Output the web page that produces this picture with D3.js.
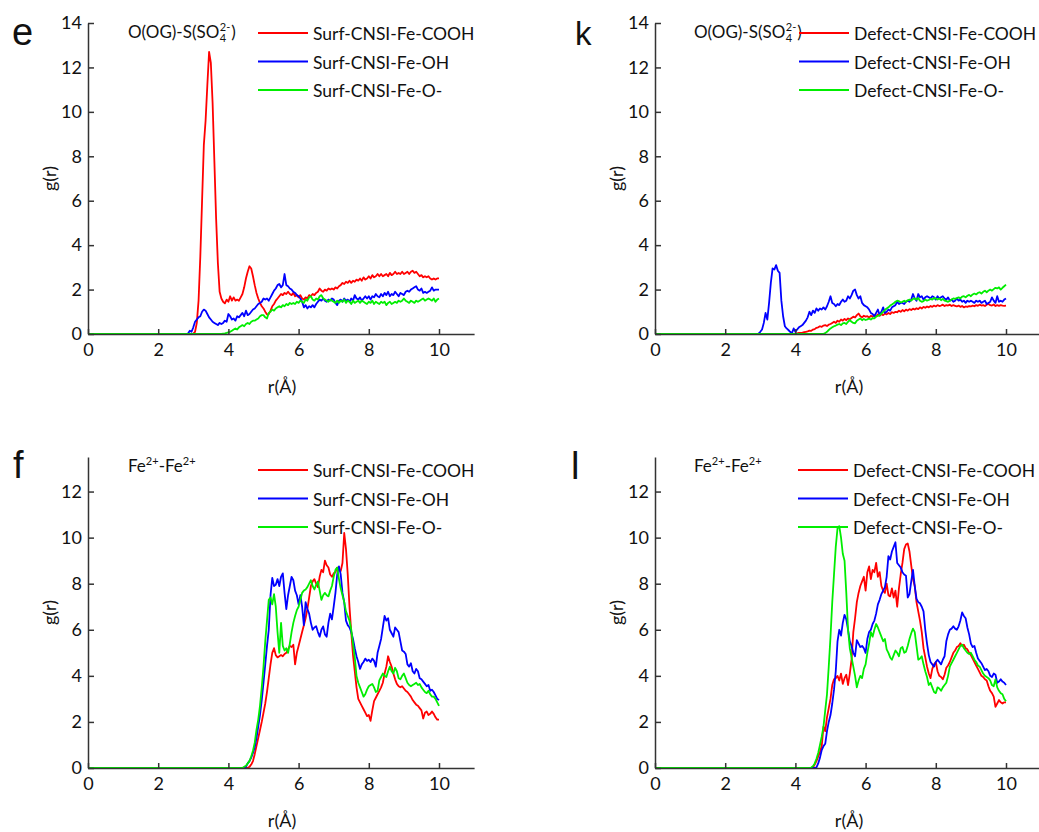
<!DOCTYPE html>
<html><head><meta charset="utf-8">
<script src="https://cdn.jsdelivr.net/npm/d3@7"></script>
<style>
body{margin:0;background:#fff}
svg{display:block}
text{font-family:Lato,'Open Sans',sans-serif}
</style>
</head><body>
<svg id="c" width="1039" height="832"></svg>
<script>
// ---------- data ----------
const rStep = 0.05;
const rStartTop = 2.8;     // first grid r of panels e,k
const rStartBottom = 4.4;  // first grid r of panels f,l
const xTicks = [0,2,4,6,8,10];
const yTicksTop = [0,2,4,6,8,10,12,14];
const yTicksBottom = [0,2,4,6,8,10,12];
const surfLabels = ['Surf-CNSI-Fe-COOH','Surf-CNSI-Fe-OH','Surf-CNSI-Fe-O-'];
const defectLabels = ['Defect-CNSI-Fe-COOH','Defect-CNSI-Fe-OH','Defect-CNSI-Fe-O-'];
const seriesColors = ['#ff0000','#0000ff','#00ee00'];

// panel e : O(OG)-S(SO4 2-), surface
const eCOOH = [
0,0,0,0,0.02,0.1,0.5,1.5,3.5,6.0,
8.5,9.6,11.2,12.7,12.2,10.4,7.8,5.2,3.2,1.9,
1.6,1.45,1.38,1.55,1.45,1.7,1.5,1.65,1.5,1.55,
1.5,1.65,1.8,2.1,2.5,2.8,3.05,2.95,2.6,2.2,
1.85,1.6,1.4,1.25,1.15,1.0,0.88,0.9,1.05,1.25,
1.35,1.5,1.6,1.7,1.8,1.75,1.85,1.8,1.9,1.8,
1.75,1.85,1.7,1.75,1.65,1.75,1.6,1.55,1.65,1.6,
1.75,1.7,1.8,1.75,1.85,1.9,2.05,1.95,1.9,2.0,
1.95,2.05,2.0,2.05,2.0,2.1,2.05,2.15,2.2,2.3,
2.25,2.35,2.3,2.4,2.3,2.4,2.35,2.45,2.4,2.5,
2.4,2.55,2.45,2.5,2.6,2.5,2.65,2.55,2.6,2.7,
2.6,2.7,2.6,2.65,2.7,2.6,2.75,2.65,2.7,2.8,
2.7,2.75,2.7,2.8,2.7,2.75,2.8,2.7,2.8,2.85,
2.75,2.8,2.7,2.6,2.65,2.55,2.6,2.55,2.6,2.5,
2.45,2.5,2.45,2.5,2.5];
const eOH = [
0,0.02,0.15,0.1,0.3,0.55,0.65,0.75,0.8,1.0,
1.1,1.05,0.9,0.75,0.65,0.55,0.5,0.45,0.4,0.5,
0.45,0.5,0.6,0.55,0.9,0.8,0.65,0.7,0.6,0.8,
0.75,0.85,0.95,0.8,1.05,0.85,0.9,1.0,1.1,1.15,
1.25,1.35,1.4,1.45,1.6,1.55,1.6,1.5,1.65,1.8,
1.95,2.05,2.2,2.25,2.1,2.2,2.7,2.2,2.15,2.05,
2.0,1.9,1.85,1.75,1.7,1.6,1.45,1.2,1.3,1.15,
1.25,1.2,1.3,1.2,1.35,1.45,1.55,1.5,1.6,1.5,
1.45,1.55,1.5,1.6,1.55,1.4,1.3,1.5,1.55,1.45,
1.6,1.5,1.55,1.45,1.6,1.5,1.75,1.6,1.55,1.65,
1.5,1.6,1.7,1.6,1.7,1.55,1.7,1.65,1.8,1.7,
1.65,1.8,1.7,1.85,1.75,1.9,1.7,1.8,1.75,1.9,
1.8,1.7,1.85,1.8,1.75,1.9,1.95,1.9,2.0,2.05,
2.1,2.15,2.0,1.95,2.05,1.85,1.9,1.85,1.9,1.95,
2.1,1.95,2.0,2.0,2.0];
const eO = [
0,0,0,0,0,0,0,0,0,0,
0,0,0,0,0,0,0,0,0,0,
0.01,0.02,0.03,0.05,0.08,0.1,0.15,0.2,0.25,0.2,
0.3,0.35,0.4,0.35,0.45,0.5,0.45,0.55,0.6,0.6,
0.65,0.7,0.8,0.85,0.85,0.75,0.7,0.95,1.0,1.1,
1.05,1.15,1.2,1.25,1.2,1.3,1.25,1.35,1.3,1.4,
1.35,1.4,1.35,1.45,1.4,1.5,1.45,1.4,1.55,1.5,
1.65,1.7,1.55,1.5,1.6,1.55,1.7,1.75,1.6,1.55,
1.5,1.45,1.55,1.5,1.45,1.4,1.5,1.4,1.5,1.45,
1.55,1.4,1.5,1.45,1.35,1.5,1.4,1.45,1.5,1.4,
1.5,1.45,1.4,1.35,1.45,1.4,1.5,1.35,1.45,1.4,
1.35,1.45,1.4,1.45,1.3,1.4,1.45,1.35,1.4,1.45,
1.4,1.5,1.45,1.5,1.6,1.5,1.45,1.4,1.5,1.45,
1.4,1.5,1.45,1.5,1.55,1.6,1.5,1.55,1.6,1.55,
1.5,1.6,1.45,1.55,1.6];

// panel k : O(OG)-S(SO4 2-), defect
const kCOOH = [
0,0,0,0,0,0,0,0,0,0,
0,0,0,0,0,0,0,0,0,0,
0,0,0,0,0.02,0.03,0.05,0.05,0.06,0.08,
0.1,0.12,0.15,0.14,0.2,0.22,0.28,0.3,0.35,0.32,
0.38,0.4,0.36,0.42,0.45,0.5,0.55,0.5,0.6,0.55,
0.65,0.6,0.68,0.62,0.7,0.66,0.72,0.78,0.74,0.85,
0.92,0.8,0.75,0.82,0.78,0.8,0.74,0.82,0.78,0.85,
0.8,0.88,0.82,0.9,0.85,0.92,0.88,0.95,0.9,0.98,
0.95,1.0,0.98,1.05,1.0,1.08,1.02,1.1,1.05,1.12,
1.08,1.14,1.1,1.16,1.12,1.2,1.15,1.22,1.18,1.24,
1.2,1.26,1.22,1.28,1.24,1.3,1.26,1.28,1.32,1.26,
1.3,1.28,1.32,1.26,1.3,1.27,1.24,1.28,1.22,1.26,
1.2,1.24,1.22,1.26,1.24,1.28,1.25,1.3,1.27,1.32,
1.28,1.3,1.26,1.32,1.35,1.3,1.28,1.33,1.26,1.3,
1.27,1.3,1.28,1.27,1.28];
const kOH = [
0,0,0,0.02,0.1,0.2,0.5,0.95,0.65,1.4,
2.3,2.95,2.9,3.1,2.85,2.75,1.5,0.8,0.35,0.25,
0.18,0.1,0.03,0.25,0.1,0.2,0.3,0.35,0.4,0.5,
0.6,0.75,1.0,0.85,1.05,0.95,1.15,1.05,1.15,1.1,
1.2,1.1,1.25,1.45,1.7,1.4,1.35,1.25,1.35,1.3,
1.45,1.55,1.45,1.5,1.7,1.6,1.75,1.95,2.0,1.75,
1.6,1.7,1.4,1.3,1.25,1.2,1.1,0.95,0.9,0.8,
0.95,1.1,0.85,1.0,1.2,0.95,1.0,1.1,1.05,1.2,
1.25,1.3,1.45,1.35,1.4,1.4,1.35,1.45,1.5,1.45,
1.55,1.8,1.6,1.5,1.8,1.65,1.7,1.55,1.65,1.7,
1.65,1.6,1.7,1.65,1.55,1.7,1.6,1.65,1.7,1.6,
1.55,1.65,1.5,1.55,1.45,1.5,1.6,1.5,1.55,1.45,
1.5,1.4,1.5,1.45,1.5,1.45,1.4,1.5,1.45,1.5,
1.4,1.45,1.5,1.35,1.4,1.45,1.65,1.5,1.4,1.7,
1.45,1.5,1.45,1.55,1.6];
const kO = [
0,0,0,0,0,0,0,0,0,0,
0,0,0,0,0,0,0,0,0,0,
0,0,0,0,0,0,0,0,0,0,
0,0,0,0,0,0,0,0,0,0,
0.01,0.04,0.1,0.18,0.25,0.3,0.35,0.38,0.42,0.45,
0.4,0.48,0.5,0.45,0.55,0.63,0.55,0.5,0.48,0.6,
0.65,0.7,0.62,0.68,0.63,0.66,0.7,0.65,0.72,0.7,
0.78,0.82,0.85,0.92,1.0,1.08,1.15,1.2,1.28,1.33,
1.38,1.45,1.5,1.48,1.42,1.45,1.5,1.45,1.52,1.55,
1.5,1.58,1.6,1.55,1.62,1.5,1.45,1.48,1.55,1.5,
1.53,1.58,1.55,1.62,1.6,1.55,1.6,1.52,1.58,1.5,
1.48,1.45,1.5,1.55,1.6,1.58,1.62,1.65,1.6,1.68,
1.7,1.65,1.72,1.76,1.7,1.78,1.82,1.78,1.85,1.88,
1.82,1.9,1.95,1.88,1.95,2.0,1.95,2.02,2.08,2.05,
2.1,2.0,2.08,2.15,2.22];

// panel f : Fe2+-Fe2+, surface
const fCOOH = [
0,0,0,0,0.05,0.15,0.3,0.6,0.95,1.3,
1.65,2.0,2.4,2.8,3.3,3.9,4.5,5.0,5.2,4.9,
4.8,4.85,4.9,4.85,4.95,5.0,5.15,5.3,5.25,5.35,
4.5,5.0,5.3,5.6,5.9,6.2,6.5,6.9,7.4,7.9,
8.1,8.2,8.0,7.85,8.3,8.6,8.5,9.0,8.8,8.7,
8.4,8.3,8.45,8.5,8.7,8.6,8.55,8.9,10.2,9.5,
8.4,7.0,5.9,4.9,4.2,3.5,3.0,2.85,2.7,2.55,
2.4,2.25,2.3,2.05,2.5,2.9,3.05,3.2,3.35,3.5,
3.7,4.1,4.4,4.85,4.6,4.4,4.1,3.85,3.65,3.55,
3.5,3.55,3.45,3.35,3.3,3.2,3.1,2.95,2.85,2.75,
2.7,2.6,2.5,2.15,2.4,2.45,2.3,2.35,2.45,2.35,
2.2,2.1,2.1];
const fOH = [
0,0,0.05,0.2,0.3,0.45,0.65,0.9,1.3,1.8,
2.3,2.95,3.7,4.5,5.3,6.0,7.5,8.25,7.9,7.95,
8.2,7.9,8.3,8.45,7.6,6.9,7.5,7.9,8.3,8.15,
7.7,7.5,7.1,7.5,7.0,6.2,7.2,6.9,6.7,6.3,
6.0,6.1,6.15,5.9,5.7,6.0,6.15,5.8,5.7,6.3,
6.7,6.45,7.0,7.6,8.4,8.75,8.4,7.6,7.2,6.4,
6.2,6.1,5.9,5.6,5.2,4.85,4.6,4.3,4.5,4.6,
4.75,4.65,4.7,4.6,4.75,4.65,4.4,5.0,5.3,5.6,
6.1,6.6,6.4,6.5,6.0,5.85,5.7,6.1,6.0,5.9,
5.5,5.1,5.05,4.95,4.5,4.4,4.55,4.2,4.1,4.3,
4.2,3.9,3.85,3.75,3.65,3.55,3.6,3.35,3.4,3.3,
3.15,3.0,2.95];
const fO = [
0,0.05,0.1,0.2,0.3,0.5,0.75,1.1,1.65,2.1,
2.7,3.5,4.4,5.5,6.4,7.3,7.4,7.1,7.55,7.0,
5.9,5.0,6.3,5.3,5.1,5.2,5.0,5.4,5.9,6.3,
6.6,6.85,7.0,7.3,7.6,7.7,7.75,7.85,8.0,8.15,
7.9,7.75,7.95,8.1,7.7,7.3,7.5,7.6,7.5,7.45,
7.7,7.9,8.3,8.6,8.7,8.2,7.8,7.5,7.2,6.8,
6.6,6.4,6.0,5.4,4.8,4.0,3.7,3.5,3.3,3.1,
3.2,3.4,3.55,3.6,3.65,3.5,3.3,3.35,3.8,3.95,
4.1,4.0,3.95,4.2,4.4,4.2,4.1,4.35,4.2,3.9,
3.85,4.0,4.1,3.9,3.7,3.6,3.55,3.6,3.65,3.7,
3.6,3.65,3.5,3.4,3.3,3.25,3.35,3.2,3.1,3.1,
3.0,2.85,2.7];

// panel l : Fe2+-Fe2+, defect
const lCOOH = [
0,0,0.02,0.15,0.3,0.5,0.7,0.95,1.8,1.6,
2.2,2.6,3.0,3.6,3.85,3.9,4.0,3.8,4.1,3.65,
3.9,4.05,3.6,4.1,4.7,5.9,6.5,7.2,7.6,7.9,
8.1,8.3,7.7,8.5,8.75,8.2,8.6,8.5,8.9,8.3,
8.5,7.9,7.7,7.6,8.0,7.5,7.45,7.8,7.4,7.7,
7.0,7.8,8.4,8.9,9.5,9.7,9.75,9.4,8.8,8.2,
7.9,7.2,6.8,6.4,5.9,5.2,4.8,4.4,4.1,3.9,
4.3,4.5,4.6,4.2,4.0,3.95,3.85,4.05,4.35,4.45,
4.6,4.8,5.0,5.1,5.25,5.3,5.42,5.3,5.35,5.2,
5.15,5.0,4.9,4.75,4.6,4.45,4.3,4.15,4.0,3.95,
3.85,3.8,3.55,3.35,3.25,3.1,2.65,2.8,2.95,2.85,
2.8,2.85,2.85];
const lOH = [
0,0,0,0,0.03,0.2,0.45,0.78,0.95,1.05,
1.6,2.0,2.3,2.8,3.4,4.2,5.5,6.0,5.75,6.3,
6.65,6.45,6.0,5.5,5.3,5.0,4.85,5.55,5.4,5.25,
5.3,5.2,5.0,5.6,5.9,6.0,6.25,6.4,6.7,7.1,
7.3,7.55,7.7,7.85,8.3,9.2,9.05,9.4,9.6,9.8,
8.9,8.8,8.7,8.5,8.4,8.35,7.4,7.55,8.1,8.6,
7.9,7.35,7.2,7.15,7.0,6.8,6.0,5.4,4.9,4.6,
4.5,4.4,4.6,4.7,4.6,4.5,4.7,4.85,5.5,5.8,
6.0,6.05,6.15,6.05,6.0,6.15,6.4,6.75,6.6,6.5,
6.1,5.8,5.4,5.25,5.3,5.0,4.75,4.65,4.55,4.4,
4.25,4.3,4.2,4.0,3.95,4.1,4.05,3.7,3.75,3.85,
3.75,3.7,3.6];
const lO = [
0,0.02,0.08,0.2,0.4,0.65,1.0,1.36,1.8,2.5,
3.2,4.4,5.7,7.2,8.4,9.6,10.4,10.5,10.0,9.3,
9.0,7.6,6.0,5.2,4.8,4.4,4.0,3.5,3.8,4.0,
3.9,4.3,4.5,5.0,5.4,5.9,5.7,6.0,6.25,6.1,
5.9,5.7,5.5,5.6,5.15,5.0,4.8,4.7,4.9,5.1,
5.0,4.85,5.2,5.25,5.0,5.05,5.3,5.6,5.85,6.05,
5.9,5.3,4.7,4.75,4.85,4.5,4.2,3.95,3.6,3.7,
3.5,3.3,3.25,3.5,3.45,3.35,3.5,3.6,3.7,4.0,
4.4,4.55,4.7,4.85,5.0,5.15,5.3,5.35,5.2,5.1,
5.0,4.95,5.0,4.85,4.7,4.6,4.45,4.4,4.25,4.1,
4.0,3.95,3.9,3.8,3.6,3.55,3.85,3.5,3.35,3.25,
3.2,3.0,2.9];

// ---------- layout ----------
const pxPerR = 35.1;
const xMax = 11;
const panels = [
  {letter:'e', lx:12, ly:45, lsize:38, ox:88,  y0:334, yTop:23,  yMax:14,   yTicks:yTicksTop,    rStart:rStartTop,    series:[eCOOH,eOH,eO], labels:surfLabels,   ann:'so4', ax:128, ay:38,  legX:258, legY:33},
  {letter:'k', lx:575,ly:45, lsize:33, ox:655, y0:334, yTop:23,  yMax:14,   yTicks:yTicksTop,    rStart:rStartTop,    series:[kCOOH,kOH,kO], labels:defectLabels, ann:'so4', ax:694, ay:38,  legX:799, legY:33},
  {letter:'f', lx:13, ly:478,lsize:38, ox:88,  y0:768, yTop:457, yMax:13.5, yTicks:yTicksBottom, rStart:rStartBottom, series:[fCOOH,fOH,fO], labels:surfLabels,   ann:'fe',  ax:128, ay:472, legX:258, legY:470},
  {letter:'l', lx:571,ly:479,lsize:38, ox:655, y0:768, yTop:457, yMax:13.5, yTicks:yTicksBottom, rStart:rStartBottom, series:[lCOOH,lOH,lO], labels:defectLabels, ann:'fe',  ax:694, ay:472, legX:798, legY:470}
];

const svg = d3.select('#c');
const axisColor = '#333';
const textColor = '#111';

panels.forEach(p => {
  const g = svg.append('g');
  const x = d3.scaleLinear().domain([0, xMax]).range([p.ox, p.ox + xMax*pxPerR]);
  const y = d3.scaleLinear().domain([0, p.yMax]).range([p.y0, p.yTop]);
  const line = d3.line().x(d => x(d[0])).y(d => y(d[1]));

  // curves
  p.series.forEach((vals, si) => {
    const pts = [[0,0]].concat(vals.map((v,i) => [p.rStart + i*rStep, v]));
    g.append('path').datum(pts)
      .attr('d', line)
      .attr('fill','none')
      .attr('stroke', seriesColors[si])
      .attr('stroke-width', 1.8)
      .attr('stroke-linejoin','round');
  });

  // axes
  const gx = g.append('g').attr('transform', `translate(0,${p.y0})`)
    .call(d3.axisBottom(x).tickValues(xTicks).tickSizeInner(-5).tickSizeOuter(0).tickPadding(9));
  const gy = g.append('g').attr('transform', `translate(${p.ox},0)`)
    .call(d3.axisLeft(y).tickValues(p.yTicks).tickSizeInner(-6).tickSizeOuter(0).tickPadding(6));
  [gx, gy].forEach(a => {
    a.select('.domain').attr('stroke', axisColor).attr('stroke-width', 1.5);
    a.selectAll('.tick line').attr('stroke', axisColor).attr('stroke-width', 1.5);
    a.selectAll('.tick text').attr('fill', textColor).style('font-size','18px').style('font-family','Lato');
  });

  // axis titles
  g.append('text').attr('x', p.ox + xMax*pxPerR/2 + 1).attr('y', p.y0 + 59)
    .attr('text-anchor','middle').style('font-size','18px').attr('fill', textColor).text('r(Å)');
  g.append('text').attr('transform', `translate(${p.ox-32},${(p.y0+p.yTop)/2}) rotate(-90)`)
    .attr('text-anchor','middle').style('font-size','18px').attr('fill', textColor).text('g(r)');

  // panel letter
  g.append('text').attr('x', p.lx).attr('y', p.ly)
    .style('font-family','"Liberation Sans",Arial,sans-serif').style('font-size', p.lsize+'px')
    .attr('fill','#111').text(p.letter);

  // annotation
  if (p.ann === 'so4') {
    const t1 = g.append('text').attr('x', p.ax).attr('y', p.ay).style('font-size','17px').attr('fill', textColor).text('O(OG)-S(SO');
    const w1 = t1.node().getComputedTextLength();
    const sup = g.append('text').attr('x', p.ax + w1 + 0.5).attr('y', p.ay - 7).style('font-size','11px').attr('fill', textColor).text('2-');
    g.append('text').attr('x', p.ax + w1 + 0.5).attr('y', p.ay + 4).style('font-size','11px').attr('fill', textColor).text('4');
    const ws = sup.node().getComputedTextLength();
    g.append('text').attr('x', p.ax + w1 + ws + 1.5).attr('y', p.ay).style('font-size','17px').attr('fill', textColor).text(')');
  } else {
    const t = g.append('text').attr('x', p.ax).attr('y', p.ay).style('font-size','17px').attr('fill', textColor);
    t.append('tspan').text('Fe');
    t.append('tspan').attr('dy', -7).style('font-size','11px').text('2+');
    t.append('tspan').attr('dy', 7).text('-Fe');
    t.append('tspan').attr('dy', -7).style('font-size','11px').text('2+');
  }

  // legend
  p.labels.forEach((lab, i) => {
    const ly = p.legY + i*28.5;
    g.append('line').attr('x1', p.legX).attr('x2', p.legX + 50).attr('y1', ly).attr('y2', ly)
      .attr('stroke', seriesColors[i]).attr('stroke-width', 2);
    g.append('text').attr('x', p.legX + 55).attr('y', ly + 7)
      .style('font-size','17.5px').attr('fill', textColor).text(lab);
  });
});
</script>
</body></html>
